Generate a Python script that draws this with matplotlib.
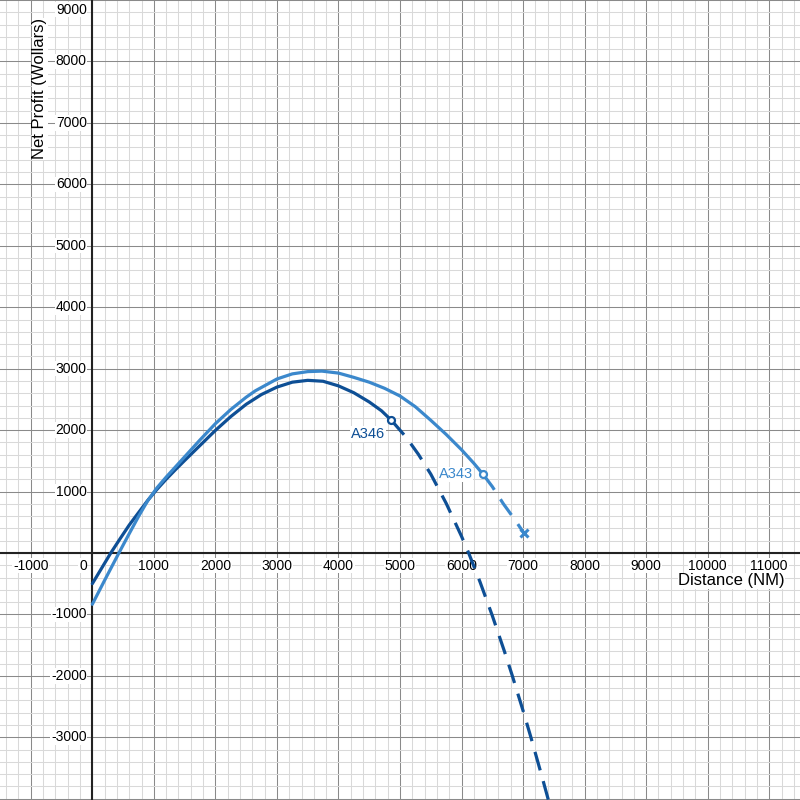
import numpy as np
import matplotlib.pyplot as plt
from matplotlib.ticker import MultipleLocator

plt.rcParams['font.family'] = ['Liberation Sans', 'DejaVu Sans']

# A346 (dark) - solid part up to its range end, then dashed extension
a346_x = [0, 150, 300, 450, 600, 757, 900, 1050, 1200, 1350, 1500, 1750, 2000,
          2250, 2500, 2750, 3000, 3250, 3500, 3750, 4000, 4250, 4500, 4700, 4860]
a346_y = [-500, -250, 0, 230, 455, 665, 855, 1035, 1200, 1355, 1505, 1750, 1995,
          2220, 2420, 2580, 2700, 2780, 2810, 2795, 2720, 2608, 2458, 2314, 2160]
a346_dash_x = [4860, 5100, 5300, 5500, 5750, 6000, 6120, 6300, 6500, 6700, 6820,
               7000, 7120, 7300, 7420]
a346_dash_y = [2160, 1884, 1604, 1284, 809, 271, -11, -470, -1020, -1610, -1982,
               -2567, -2975, -3614, -4052]

# A343 (light) - solid then dashed up to max distance
a343_x = [0, 200, 432, 600, 757, 900, 1050, 1200, 1350, 1500, 1750, 2000, 2250,
          2500, 2650, 3000, 3250, 3500, 3730, 4000, 4250, 4500, 4750, 5000, 5250,
          5500, 5750, 6000, 6200, 6350]
a343_y = [-835, -445, 0, 315, 605, 850, 1060, 1235, 1400, 1565, 1840, 2105, 2335,
          2535, 2640, 2832, 2915, 2952, 2960, 2928, 2858, 2780, 2680, 2555, 2380,
          2160, 1930, 1680, 1460, 1280]
a343_dash_x = [6350, 6500, 6680, 6850, 7010]
a343_dash_y = [1280, 1080, 800, 565, 330]

x_ticks = list(range(-1000, 12000, 1000))
y_ticks = list(range(-3000, 10000, 1000))

dark = '#0e4f95'
light = '#3b88cc'

fig = plt.figure(figsize=(8, 8), dpi=100)
ax = fig.add_axes([0, 0, 1, 1])
ax.set_xlim(-1500, 11500)
ax.set_ylim(-4020, 9000)

# desmos-like grid
ax.xaxis.set_major_locator(MultipleLocator(1000))
ax.xaxis.set_minor_locator(MultipleLocator(200))
ax.yaxis.set_major_locator(MultipleLocator(1000))
ax.yaxis.set_minor_locator(MultipleLocator(200))
ax.grid(which='minor', color='#d9d9d9', linewidth=0.75)
ax.grid(which='major', color='#8a8a8a', linewidth=0.75)
ax.tick_params(which='both', length=0, labelbottom=False, labelleft=False)
for s in ax.spines.values():
    s.set_visible(False)
ax.axhline(0, color='#222222', linewidth=1.5, zorder=2)
ax.axvline(0, color='#222222', linewidth=1.5, zorder=2)

# tick labels
bb = dict(facecolor='white', edgecolor='none', pad=0.5)
for xv in x_ticks:
    if xv == 0:
        continue
    ax.annotate(str(xv), (xv, 0), xytext=(0, -4), textcoords='offset points',
                ha='center', va='top', fontsize=10, bbox=bb, zorder=3)
ax.annotate('0', (0, 0), xytext=(-4, -4), textcoords='offset points',
            ha='right', va='top', fontsize=10, bbox=bb, zorder=3)
for yv in y_ticks:
    if yv == 0 or yv == 9000:
        continue
    ax.annotate(str(yv), (0, yv), xytext=(-4, 0), textcoords='offset points',
                ha='right', va='center', fontsize=10, bbox=bb, zorder=3)
ax.annotate('9000', (0, 9000), xytext=(-4, -2), textcoords='offset points',
            ha='right', va='top', fontsize=10, bbox=bb, zorder=3)

# curves
ax.plot(a346_x, a346_y, color=dark, linewidth=2.3, zorder=4, solid_capstyle='round')
ax.plot(a346_dash_x, a346_dash_y, color=dark, linewidth=2.3, dashes=(6, 3.5), zorder=4)
ax.plot(a343_x, a343_y, color=light, linewidth=2.3, zorder=4, solid_capstyle='round')
ax.plot(a343_dash_x, a343_dash_y, color=light, linewidth=2.3, dashes=(6, 3.5), zorder=4)

ax.plot(a346_x[-1], a346_y[-1], 'o', markersize=5, markerfacecolor='white',
        markeredgecolor=dark, markeredgewidth=1.6, zorder=5)
ax.plot(a343_x[-1], a343_y[-1], 'o', markersize=5, markerfacecolor='white',
        markeredgecolor=light, markeredgewidth=1.6, zorder=5)
ax.plot(a343_dash_x[-1], a343_dash_y[-1], 'x', markersize=6, color=light,
        markeredgewidth=2.2, zorder=5)

ax.annotate('A346', (a346_x[-1], a346_y[-1]), xytext=(-4.5, -10), textcoords='offset points',
            ha='right', va='center', fontsize=10.5, color=dark, bbox=bb, zorder=6)
ax.annotate('A343', (a343_x[-1], a343_y[-1]), xytext=(-7.5, 0), textcoords='offset points',
            ha='right', va='center', fontsize=10.5, color=light, bbox=bb, zorder=6)

# axis titles
fig.text(0.981, 0.274, 'Distance (NM)', ha='right', va='center', fontsize=12,
         bbox=bb, zorder=6)
fig.text(0.05, 0.889, 'Net Profit (Wollars)', ha='center', va='center', fontsize=12,
         rotation=90, bbox=bb, zorder=6)

fig.savefig('out.png', dpi=100)
